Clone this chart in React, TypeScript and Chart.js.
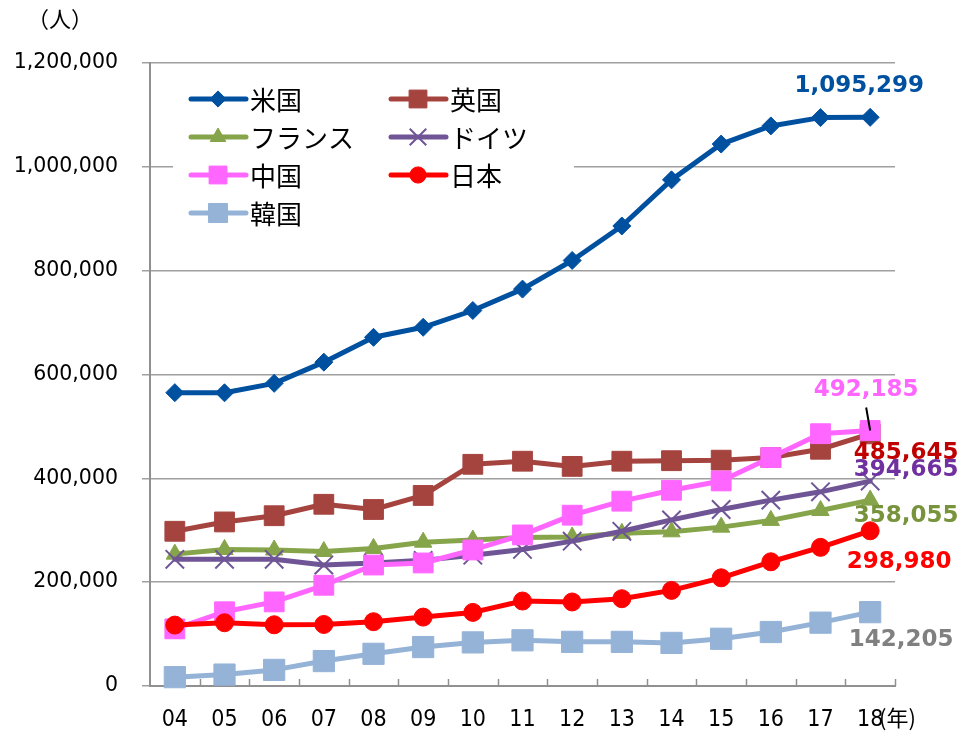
import { useEffect, useRef } from "react";
import { Chart, registerables } from "chart.js";
import { drawPoint } from "chart.js/helpers";

Chart.register(...registerables);

// 留学生数の推移（人）
const years = ["04", "05", "06", "07", "08", "09", "10", "11", "12", "13", "14", "15", "16", "17", "18"];
const seriesNames = ["米国", "英国", "フランス", "ドイツ", "中国", "日本", "韓国"];

const usa = [565039, 564766, 582984, 623805, 671616, 690923, 723277, 764495, 819644, 886052, 974926, 1043839, 1078822, 1094792, 1095299];
const uk = [298000, 316000, 328000, 350000, 340000, 367000, 427000, 433000, 423000, 433000, 434000, 435000, 440000, 456000, 485645];
const france = [254000, 263000, 262000, 259000, 265000, 277000, 281000, 286000, 287000, 294000, 297000, 306000, 319000, 338000, 358055];
const germany = [244000, 244000, 244000, 233000, 237000, 242000, 252000, 263000, 279000, 298000, 320000, 340000, 358000, 374000, 394665];
const china = [110000, 143000, 162000, 194000, 233000, 237000, 262000, 291000, 329000, 356000, 377000, 395000, 440000, 486000, 492185];
const japan = [117302, 121812, 117927, 118498, 123829, 132720, 141774, 163697, 161848, 168145, 184155, 208379, 239287, 267042, 298980];
const korea = [17000, 22000, 31000, 48000, 62000, 75000, 84000, 88000, 85000, 85000, 83000, 91000, 104000, 122000, 142205];

const yTicks = [0, 200000, 400000, 600000, 800000, 1000000, 1200000];

const seriesValues = [usa, uk, france, germany, china, japan, korea];

// line / marker styling per series
const styles = [
  { line: "#0050A0", label: "#0050A0", point: "rectRot", radius: 9, pointBorder: 1 },
  { line: "#A5443F", label: "#C00000", point: "rect", radius: 14, pointBorder: 1 },
  { line: "#86A44A", label: "#77933C", point: "triangle", radius: 10, pointBorder: 1 },
  { line: "#6F5596", label: "#7030A0", point: "crossRot", radius: 13, pointBorder: 2 },
  { line: "#FF66FF", label: "#FF66FF", point: "rect", radius: 14, pointBorder: 1 },
  { line: "#FF0000", label: "#FF0000", point: "circle", radius: 9, pointBorder: 1 },
  { line: "#95B3D7", label: "#808080", point: "rect", radius: 15, pointBorder: 1 },
];

// end-of-line value label offsets from the last point
const endLabelOffsets = [
  { dx: -11, dy: -31, leader: false },
  { dx: 36, dy: 19, leader: false },
  { dx: 36, dy: 16, leader: false },
  { dx: 36, dy: -11, leader: false },
  { dx: -4, dy: -40, leader: true },
  { dx: 29, dy: 31, leader: false },
  { dx: 31, dy: 28, leader: false },
];

const fmt = (v: number) => v.toLocaleString("en-US");

const legendPlugin = {
  id: "insetLegend",
  beforeDatasetsDraw(chart: any) {
    const ctx = chart.ctx as CanvasRenderingContext2D;
    ctx.save();
    ctx.fillStyle = "#ffffff";
    ctx.fillRect(173, 74, 401, 158);
    const cols = [191, 391];
    const rowY = [99, 137, 175, 213];
    chart.data.datasets.forEach((ds: any, i: number) => {
      const col = i % 2;
      const row = Math.floor(i / 2);
      const x0 = cols[col];
      const y = rowY[row];
      const st = styles[i];
      ctx.strokeStyle = st.line;
      ctx.lineWidth = 5;
      ctx.lineCap = "round";
      ctx.beginPath();
      ctx.moveTo(x0, y);
      ctx.lineTo(x0 + 55, y);
      ctx.stroke();
      ctx.fillStyle = st.line;
      ctx.strokeStyle = st.line;
      ctx.lineWidth = st.pointBorder;
      ctx.lineCap = "butt";
      drawPoint(ctx, { pointStyle: st.point, radius: st.radius * 0.9, rotation: 0, borderWidth: st.pointBorder } as any, x0 + 27, y);
      ctx.fillStyle = "#000000";
      ctx.font = "26px 'Noto Sans CJK JP'";
      ctx.textAlign = "left";
      ctx.textBaseline = "middle";
      ctx.fillText(ds.label, x0 + 59, y + 1);
    });
    ctx.restore();
  },
};

const decorPlugin = {
  id: "decor",
  beforeDatasetsDraw(chart: any) {
    const ctx = chart.ctx as CanvasRenderingContext2D;
    const area = chart.chartArea;
    const n = years.length;
    const step = (area.right - area.left) / n;
    ctx.save();
    ctx.strokeStyle = "#909090";
    ctx.lineWidth = 1.5;
    for (let i = 1; i <= n; i++) {
      const x = Math.round(area.left + i * step) + 0.5;
      ctx.beginPath();
      ctx.moveTo(x, area.bottom);
      ctx.lineTo(x, area.bottom - 7);
      ctx.stroke();
    }
    ctx.restore();
  },
  afterDraw(chart: any) {
    const ctx = chart.ctx as CanvasRenderingContext2D;
    ctx.save();
    ctx.fillStyle = "#000000";
    ctx.textBaseline = "middle";
    ctx.textAlign = "left";
    ctx.font = "22px 'Noto Sans CJK JP'";
    ctx.fillText("（人）", 27, 19);
    ctx.font = "22px 'Noto Sans CJK JP'";
    ctx.fillText("(年)", 879, 718);
    ctx.restore();
  },
};

const endLabelPlugin = {
  id: "endLabels",
  afterDatasetsDraw(chart: any) {
    const ctx = chart.ctx as CanvasRenderingContext2D;
    ctx.save();
    ctx.font = "bold 23px 'DejaVu Sans'";
    ctx.textAlign = "center";
    ctx.textBaseline = "middle";
    chart.data.datasets.forEach((ds: any, i: number) => {
      const meta = chart.getDatasetMeta(i);
      const last = meta.data[meta.data.length - 1];
      const value = ds.data[ds.data.length - 1];
      const off = endLabelOffsets[i];
      const lx = last.x + off.dx;
      const ly = last.y + off.dy;
      if (off.leader) {
        ctx.strokeStyle = "#000000";
        ctx.lineWidth = 2;
        ctx.beginPath();
        ctx.moveTo(lx, ly + 17);
        ctx.lineTo(last.x, last.y);
        ctx.stroke();
      }
      ctx.fillStyle = styles[i].label;
      ctx.fillText(fmt(value), lx, ly);
    });
    ctx.restore();
  },
};

export default function App() {
  const canvasRef = useRef<HTMLCanvasElement | null>(null);

  useEffect(() => {
    if (!canvasRef.current) return;
    const datasets = seriesNames.map((name, i) => ({
      label: name,
      data: seriesValues[i],
      borderColor: styles[i].line,
      backgroundColor: styles[i].line,
      borderWidth: 5,
      borderJoinStyle: "round" as const,
      borderCapStyle: "round" as const,
      pointStyle: styles[i].point,
      pointRadius: styles[i].radius,
      pointBorderWidth: styles[i].pointBorder,
      pointBackgroundColor: styles[i].line,
      pointBorderColor: styles[i].line,
      tension: 0,
      order: seriesNames.length - i,
      clip: false as any,
    }));

    const chart = new Chart(canvasRef.current, {
      type: "line",
      data: { labels: years, datasets },
      plugins: [legendPlugin, decorPlugin, endLabelPlugin],
      options: {
        animation: false,
        responsive: true,
        maintainAspectRatio: false,
        events: [],
        layout: { padding: { top: 63, right: 63, left: 0, bottom: 0 } },
        plugins: {
          legend: { display: false },
          tooltip: { enabled: false },
          title: { display: false },
        },
        scales: {
          x: {
            offset: true,
            grid: { drawOnChartArea: false, drawTicks: false, offset: true },
            border: { display: true, color: "#909090", width: 2 },
            ticks: {
              color: "#000000",
              padding: 20,
              maxRotation: 0,
              autoSkip: false,
              font: { family: "'DejaVu Sans Condensed', 'DejaVu Sans'", size: 23 },
            },
            afterFit: (s: any) => {
              s.height = 45;
            },
          },
          y: {
            min: 0,
            max: 1200000,
            afterBuildTicks: (s: any) => {
              s.ticks = yTicks.map((v) => ({ value: v }));
            },
            grid: { color: "#A0A0A0", lineWidth: 1.5, tickLength: 8, drawTicks: true },
            border: { display: true, color: "#909090", width: 2 },
            ticks: {
              color: "#000000",
              padding: 24,
              font: { family: "'DejaVu Sans'", size: 20.5 },
              callback: (v: any) => fmt(Number(v)),
            },
            afterFit: (s: any) => {
              s.width = 150;
            },
          },
        },
      },
    });
    return () => chart.destroy();
  }, []);

  return (
    <div style={{ position: "absolute", left: 0, top: 0, width: 958, height: 731, background: "#ffffff" }}>
      <canvas ref={canvasRef} />
    </div>
  );
}
